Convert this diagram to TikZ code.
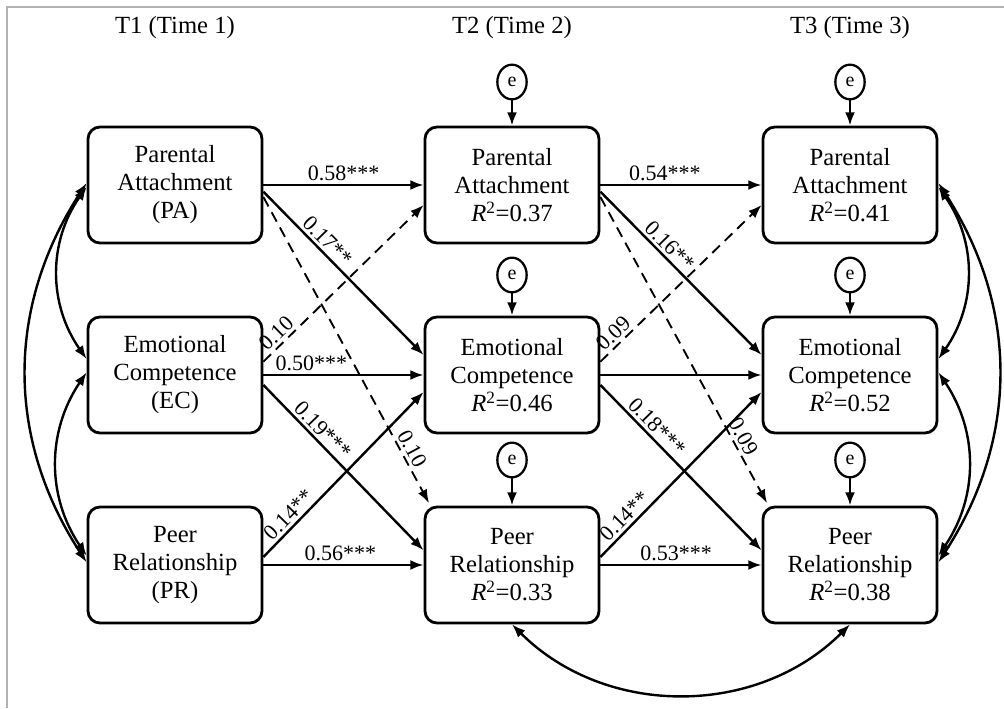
\documentclass[tikz,border=0pt]{standalone}
\usepackage{fontspec}
\setmainfont{Liberation Serif}
\usetikzlibrary{arrows.meta,shapes.geometric}
\begin{document}
\begin{tikzpicture}[x=0.75pt,y=0.75pt]
  \tikzset{ box/.style={draw,rounded corners=9pt,line width=2.1pt,minimum width=130.5pt,minimum height=87pt,align=center,inner sep=0pt,font=\fontsize{18.5}{21}\selectfont},
    err/.style={draw,ellipse,line width=1.7pt,minimum width=22pt,minimum height=26pt,inner sep=0pt,font=\fontsize{15}{15}\selectfont},
    pth/.style={-{Latex[length=10pt,width=7.5pt]},line width=1.8pt},
    dsh/.style={pth,line width=1.4pt,dash pattern=on 8pt off 5pt},
    cov/.style={{Latex[length=10pt,width=7.5pt]}-{Latex[length=10pt,width=7.5pt]},line width=1.8pt},
    cf/.style={font=\fontsize{16.5}{18}\selectfont,inner sep=2pt},
  }
  \useasboundingbox (0,0) rectangle (1004,708);
  % the frame
  \draw[gray!60,line width=0.8pt] (7,0) -- (7,701) -- (1004,701);
  % the time labels
  \node[font=\fontsize{18.5}{21}\selectfont] (t1) at (175,680) {T1 (Time 1)};
  \node[font=\fontsize{18.5}{21}\selectfont] (t2) at (512,680) {T2 (Time 2)};
  \node[font=\fontsize{18.5}{21}\selectfont] (t3) at (850,680) {T3 (Time 3)};
  % the boxes
  \node[box] (pa1) at (175,523) {Parental\\Attachment\\(PA)};
  \node[box] (ec1) at (175,333) {Emotional\\Competence\\(EC)};
  \node[box] (pr1) at (175,143) {Peer\\Relationship\\(PR)};

  \node[box] (pa2) at (512,523) {Parental\\Attachment\\\textit{R}\textsuperscript{2}=0.37};
  \node[box] (ec2) at (512,333) {Emotional\\Competence\\\textit{R}\textsuperscript{2}=0.46};
  \node[box] (pr2) at (512,143) {Peer\\Relationship\\\textit{R}\textsuperscript{2}=0.33};

  \node[box] (pa3) at (850,523) {Parental\\Attachment\\\textit{R}\textsuperscript{2}=0.41};
  \node[box] (ec3) at (850,333) {Emotional\\Competence\\\textit{R}\textsuperscript{2}=0.52};
  \node[box] (pr3) at (850,143) {Peer\\Relationship\\\textit{R}\textsuperscript{2}=0.38};
  % the errors
  \node[err] (ea2) at (512,626) {e};
  \node[err] (ee2) at (512,433) {e};
  \node[err] (er2) at (512,248) {e};
  \node[err] (ea3) at (850,626) {e};
  \node[err] (ee3) at (850,433) {e};
  \node[err] (er3) at (850,248) {e};
  \draw[pth] (ea2) -- (pa2);
  \draw[pth] (ee2) -- (ec2);
  \draw[pth] (er2) -- (pr2);
  \draw[pth] (ea3) -- (pa3);
  \draw[pth] (ee3) -- (ec3);
  \draw[pth] (er3) -- (pr3);

  % the paths from T1 to T2
  \draw[pth] (pa1) -- node[cf,above] {0.58***} (pa2);
  \draw[pth] ([yshift=-5pt]pa1.east) -- node[cf,sloped,above,pos=0.35] {0.17**} ([yshift=15pt]ec2.west);
  \draw[dsh] ([yshift=-9pt]pa1.east) -- node[cf,sloped,above,pos=0.84] {0.10} ([xshift=4pt,yshift=2pt]pr2.north west);
  \draw[dsh] ([yshift=10pt]ec1.east) -- node[cf,sloped,above,pos=0.13] {0.10} ([yshift=-15pt]pa2.west);
  \draw[pth] (ec1) -- node[cf,above,pos=0.3] {0.50***} (ec2);
  \draw[pth] ([yshift=-7.5pt]ec1.east) -- node[cf,sloped,above,pos=0.32] {0.19***} ([yshift=11pt]pr2.west);
  \draw[pth] ([yshift=6pt]pr1.east) -- node[cf,sloped,above,pos=0.21] {0.14**} ([yshift=-12.75pt]ec2.west);
  \draw[pth] (pr1) -- node[cf,above,pos=0.48] {0.56***} (pr2);

  % the paths from T2 to T3
  \draw[pth] (pa2) -- node[cf,above,pos=0.4] {0.54***} (pa3);
  \draw[pth] ([yshift=-5pt]pa2.east) -- node[cf,sloped,above,pos=0.38] {0.16**} ([yshift=15pt]ec3.west);
  \draw[dsh] ([yshift=-9pt]pa2.east) -- node[cf,sloped,above,pos=0.8] {0.09} ([xshift=4pt,yshift=2pt]pr3.north west);
  \draw[dsh] ([yshift=10pt]ec2.east) -- node[cf,sloped,above,pos=0.13] {0.09} ([yshift=-15pt]pa3.west);
  \draw[pth] (ec2) -- (ec3);
  \draw[pth] ([yshift=-7.5pt]ec2.east) -- node[cf,sloped,above,pos=0.3] {0.18***} ([yshift=11pt]pr3.west);
  \draw[pth] ([yshift=6pt]pr2.east) -- node[cf,sloped,above,pos=0.2] {0.14**} ([yshift=-12.75pt]ec3.west);
  \draw[pth] (pr2) -- node[cf,above,pos=0.47] {0.53***} (pr3);

  % the covariances
  \draw[cov] ([yshift=-1.5pt]pa1.west) to[bend right=35] ([yshift=12pt]ec1.west);
  \draw[cov] ([yshift=2pt]ec1.west) to[bend right=34] ([yshift=7pt]pr1.west);
  \draw[cov] ([yshift=1.5pt]pa1.west) to[bend right=33] ([yshift=2pt]pr1.west);
  \draw[cov] ([yshift=-1.5pt]pa3.east) to[bend left=35] ([yshift=12pt]ec3.east);
  \draw[cov] ([yshift=2pt]ec3.east) to[bend left=34] ([yshift=7pt]pr3.east);
  \draw[cov] ([yshift=1.5pt]pa3.east) to[bend left=33] ([yshift=2pt]pr3.east);
  \draw[cov] (pr2.south) to[bend right=45] (pr3.south);
\end{tikzpicture}
\end{document}
